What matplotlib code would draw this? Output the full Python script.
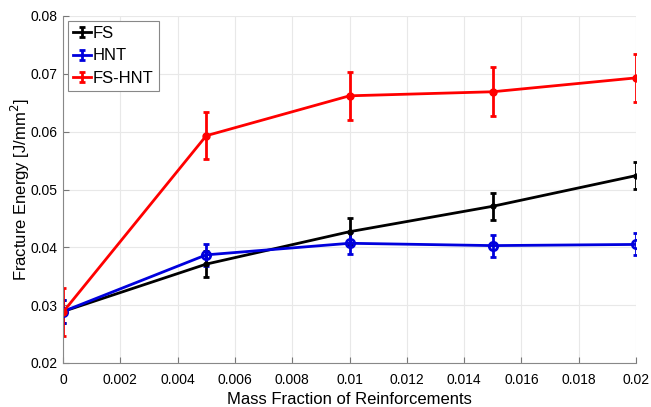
import numpy as np
import matplotlib.pyplot as plt
from matplotlib.lines import Line2D
from matplotlib.legend_handler import HandlerErrorbar
from matplotlib.container import ErrorbarContainer

plt.rcParams['font.family'] = ['Liberation Sans', 'DejaVu Sans']

mass_fraction = [0, 0.005, 0.01, 0.015, 0.02]

fs = [0.0289, 0.0371, 0.0427, 0.0471, 0.0524]
fs_err = [0.0020, 0.0022, 0.0023, 0.0023, 0.0023]

hnt = [0.0289, 0.0387, 0.0407, 0.0403, 0.0405]
hnt_err = [0.0020, 0.0019, 0.0019, 0.0019, 0.0019]

fs_hnt = [0.0288, 0.0593, 0.0662, 0.0669, 0.0693]
fs_hnt_err = [0.0041, 0.0041, 0.0041, 0.0042, 0.0041]

x_ticks = [0, 0.002, 0.004, 0.006, 0.008, 0.01, 0.012, 0.014, 0.016, 0.018, 0.02]
y_ticks = [0.02, 0.03, 0.04, 0.05, 0.06, 0.07, 0.08]

fig = plt.figure(figsize=(6.51, 4.07), dpi=100)
# axes box in pixels: left 63, right 636, top 16, bottom 363
ax = fig.add_axes([63 / 651, 44 / 407, 573 / 651, 347 / 407])

ax.errorbar(mass_fraction, fs, yerr=fs_err, color='black', lw=2, marker='.',
            ms=7, capsize=2, elinewidth=2, capthick=2, label='FS')
ax.errorbar(mass_fraction, hnt, yerr=hnt_err, color='#0000dd', lw=2, marker='o',
            ms=6, mfc='none', mew=2, capsize=2, elinewidth=2, capthick=2, label='HNT')
ax.errorbar(mass_fraction, fs_hnt, yerr=fs_hnt_err, color='#ff0000', lw=2, marker='o',
            ms=5, capsize=2, elinewidth=2, capthick=2, label='FS-HNT')

ax.set_xlim(0, 0.02)
ax.set_ylim(0.02, 0.08)
ax.set_xticks(x_ticks)
ax.set_xticklabels(['%g' % t for t in x_ticks])
ax.set_yticks(y_ticks)
ax.set_yticklabels(['%g' % t for t in y_ticks])
ax.tick_params(direction='in', labelsize=10, color='#777777', length=4)
ax.tick_params(axis='x', pad=7)
ax.tick_params(axis='y', pad=4)
ax.grid(True, color='#e8e8e8', lw=0.8)
ax.set_axisbelow(True)
for side in ['top', 'right']:
    ax.spines[side].set_visible(False)
for side in ['left', 'bottom']:
    ax.spines[side].set_color('#888888')

ax.set_xlabel('Mass Fraction of Reinforcements', fontsize=12, labelpad=4)
ax.set_ylabel('Fracture Energy [J/mm$^2$]', fontsize=12, labelpad=-1)

leg = ax.legend(loc='upper left', bbox_to_anchor=(5 / 573, 1 - 5 / 347),
                fontsize=12, handlelength=1.1, handletextpad=0.1,
                borderaxespad=0, borderpad=0.3, labelspacing=0.45, fancybox=False,
                framealpha=1,
                handler_map={ErrorbarContainer: HandlerErrorbar(yerr_size=0.3)})
leg.get_frame().set_edgecolor('#888888')
leg.get_frame().set_linewidth(0.8)
# legend shows only line + error bar, like the original
for line in leg.findobj(Line2D):
    if line.get_marker() in ('o', '.'):
        line.set_marker('None')

fig.savefig('out.png', dpi=100)
